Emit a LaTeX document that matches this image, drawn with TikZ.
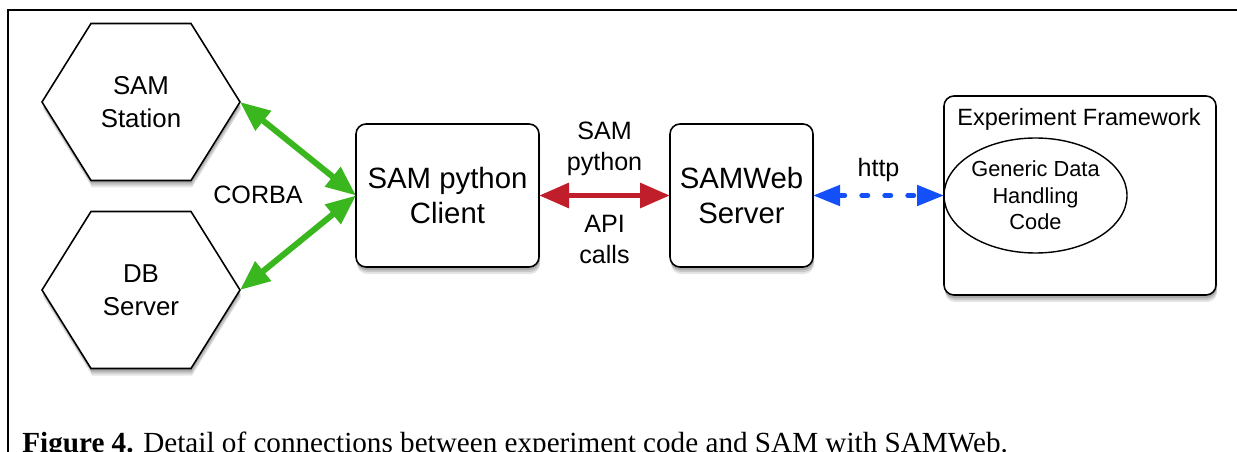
\documentclass[tikz,border=0pt]{standalone}
\usepackage{fontspec}
\setmainfont{Liberation Sans}
\newfontfamily\capfont{Liberation Serif}
\usetikzlibrary{positioning,arrows.meta,calc,shapes.geometric}
\definecolor{corbagreen}{RGB}{58,182,30}
\definecolor{apired}{RGB}{192,30,42}
\definecolor{httpblue}{RGB}{20,80,250}

\begin{document}
\begin{tikzpicture}[>={Triangle[length=6mm,width=4.8mm]},
  softshadow/.style={
    preaction={fill=black,opacity=0.10,transform canvas={xshift=0.2mm,yshift=-1.4mm}},
    preaction={fill=black,opacity=0.12,transform canvas={xshift=0.2mm,yshift=-1.0mm}},
    preaction={fill=black,opacity=0.15,transform canvas={xshift=0.1mm,yshift=-0.6mm}}},
  box/.style={draw,line width=0.9pt,rounded corners=2mm,fill=white,softshadow,align=center,inner sep=0pt,outer sep=0pt},
  hexbox/.style={minimum width=3.96cm,minimum height=3.14cm,inner sep=0pt,outer sep=0pt,align=center,font=\fontsize{14.7}{18.7}\selectfont},
  hexline/.style={draw,line width=0.9pt,fill=white,softshadow},
  label/.style={align=center,font=\fontsize{14.3}{17.6}\selectfont}]
% outer frame
\useasboundingbox (0,0) rectangle (24.74,-9.04);
\draw[line width=1.1pt] (0.16,-9.2) -- (0.16,-0.2) -- (24.9,-0.2);

% hexagons first, text on top
\foreach \c in {{2.82,-2.04},{2.82,-5.80}}
  \draw[hexline] ($(\c)+(-1.98,0)$) -- ++(0.98,1.57) -- ++(2,0) -- ++(0.98,-1.57)
    -- ++(-0.98,-1.57) -- ++(-2,0) -- cycle;
\node (station) [hexbox] at (2.82,-2.04) {SAM\\Station};
\node (db) [hexbox] at (2.82,-5.80) {DB\\Server};

\node (client) [box,minimum width=3.66cm,minimum height=2.86cm,font=\fontsize{16.7}{19.8}\selectfont] at (8.95,-3.91) {SAM python\\Client};
\node (samweb) [box,minimum width=2.86cm,minimum height=2.86cm,font=\fontsize{16.7}{19.8}\selectfont] at (14.83,-3.91) {SAMWeb\\Server};
\node (framework) [box,minimum width=5.44cm,minimum height=3.98cm] at (21.60,-3.91) {};
\node (fwtitle) [font=\fontsize{13.4}{16}\selectfont] at (21.58,-2.38) {Experiment Framework};
\node (code) [draw,ellipse,line width=0.8pt,minimum width=3.66cm,minimum height=2.30cm,inner sep=0pt,outer sep=0pt,align=center,
  font=\fontsize{12.4}{15}\selectfont] at (20.71,-3.91) {Generic Data\\Handling\\Code};

\node (corba) [label] at (5.16,-3.90) {CORBA};

\draw[<->,corbagreen,line width=3.4pt] (station.east) -- (client.west);
\draw[<->,corbagreen,line width=3.4pt] (db.east) -- (client.west);
\draw[<->,apired,line width=3.4pt] (client) -- (samweb)
  node (apitop) [midway,above=0.22cm,label,text=black] {SAM\\python}
  node (apibot) [midway,below=0.22cm,label,text=black] {API\\calls};
\draw[{Triangle[length=5.4mm,width=4mm]}-{Triangle[length=5.4mm,width=4mm]},httpblue,line width=2.8pt,
  dash pattern=on 0.12cm off 0.34cm,line cap=round] (samweb) -- (code.west)
  node (http) [midway,above=0.1cm,label,text=black] {http};

\node (caption) [anchor=base west,inner sep=0pt,font=\capfont\fontsize{16.6}{20}\selectfont] at (0.44,-9.05)
  {\textbf{Figure 4.} Detail of connections between experiment code and SAM with SAMWeb.};
\end{tikzpicture}
\end{document}
